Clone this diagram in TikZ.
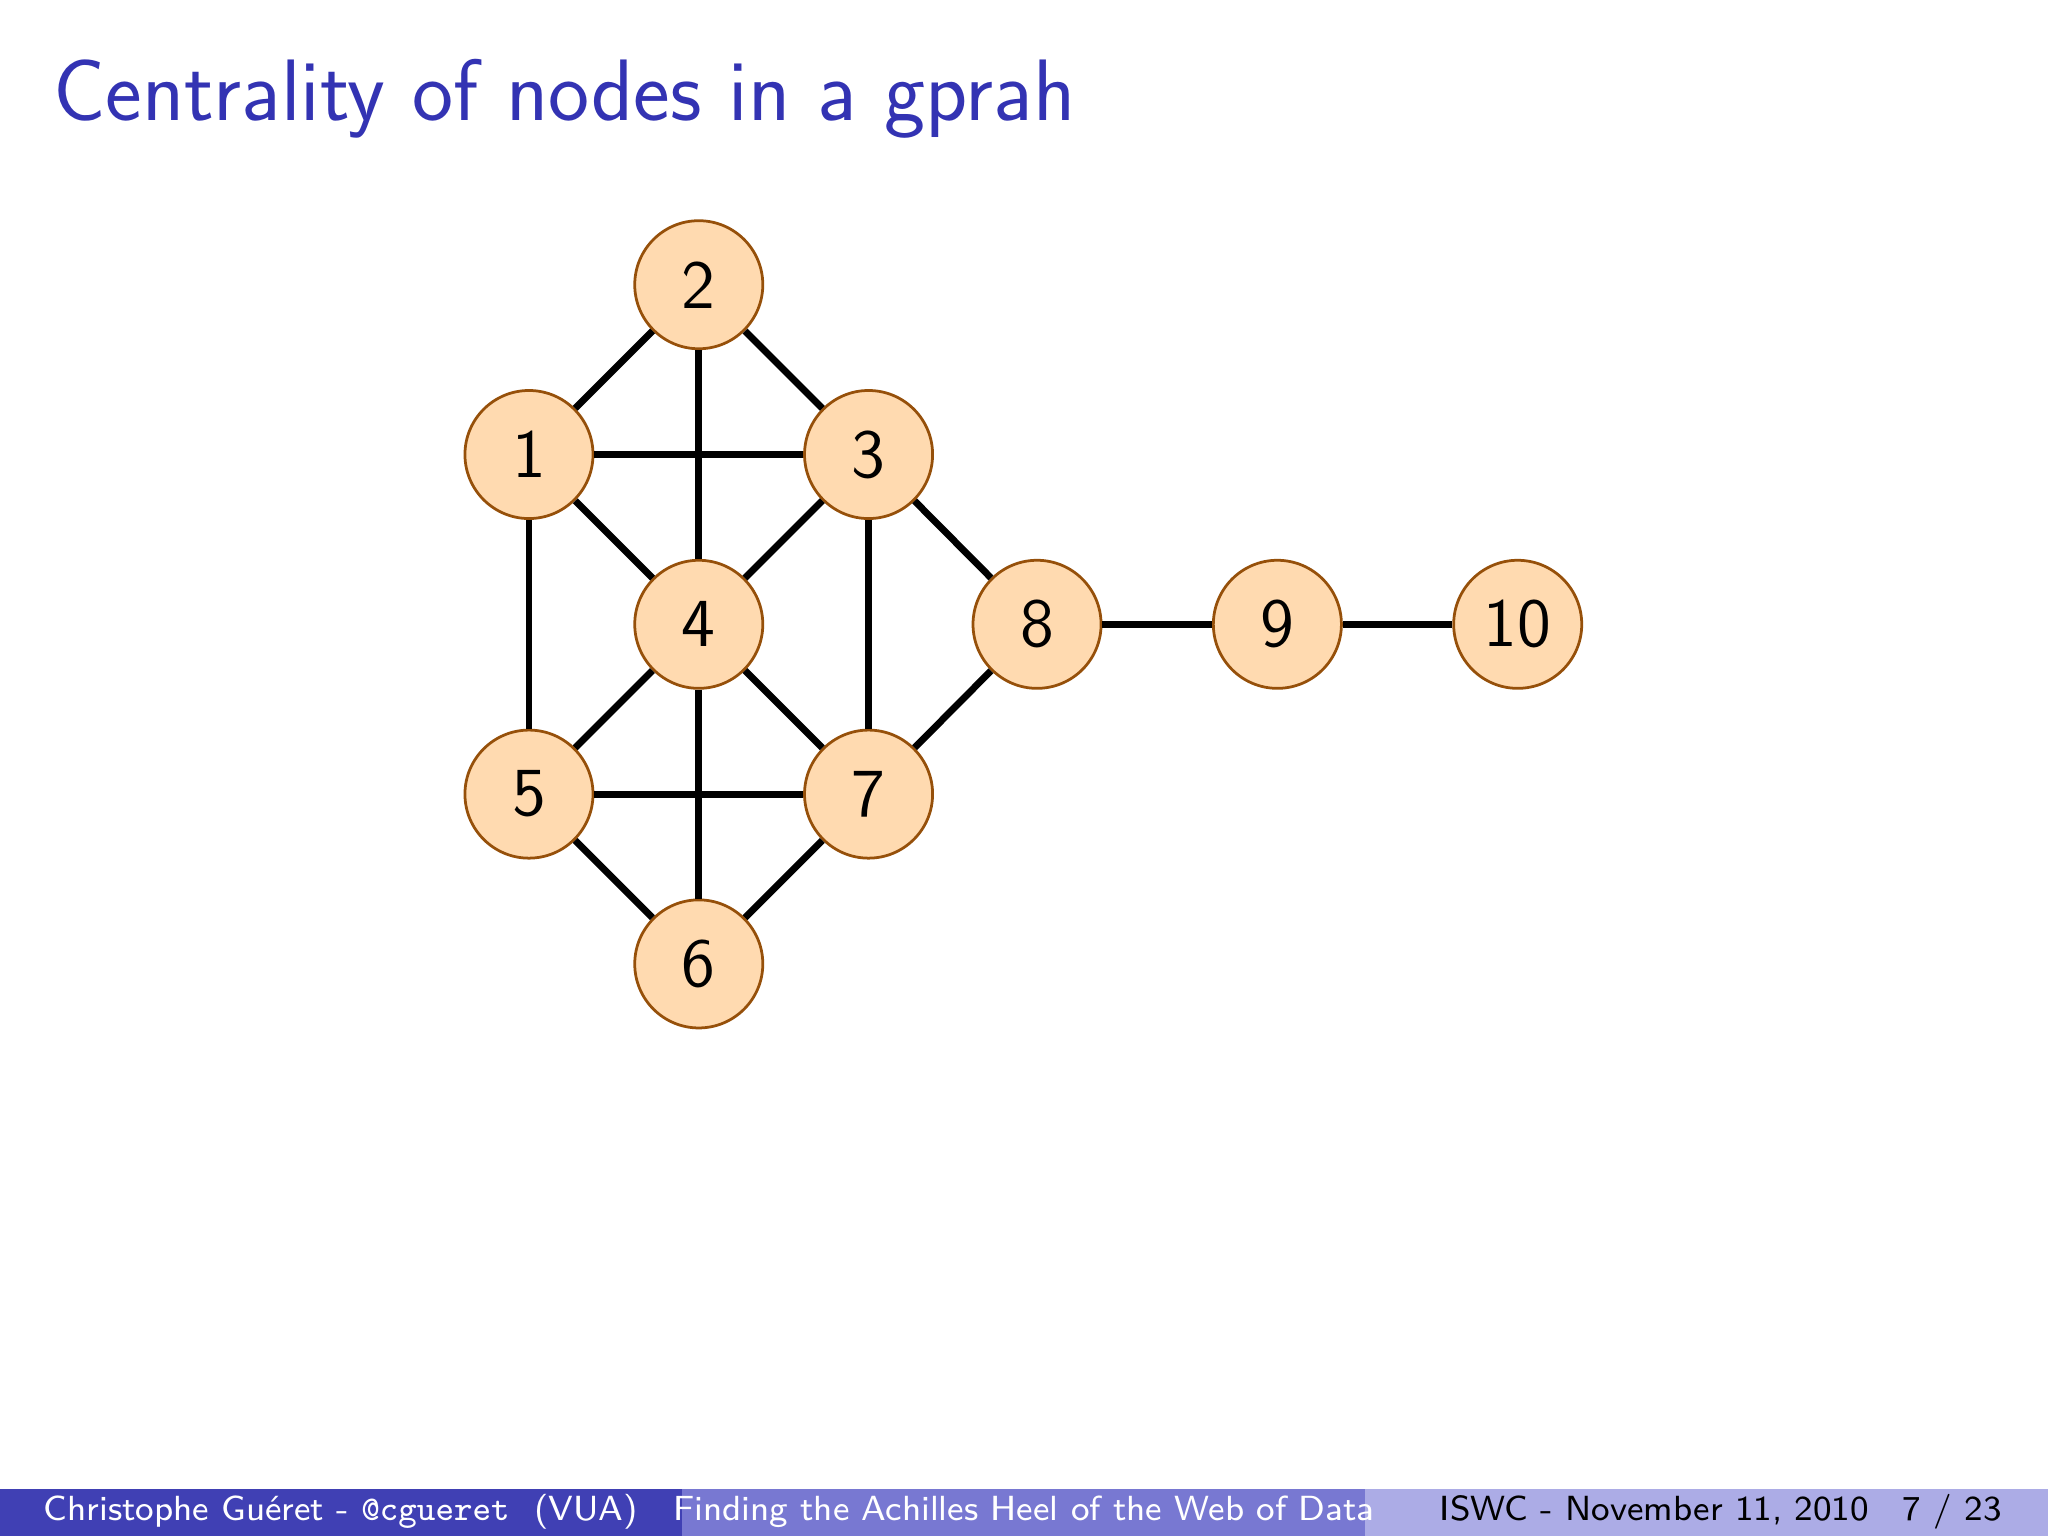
\documentclass[tikz,border=0pt]{standalone}
\usepackage{fontspec}
\definecolor{titleblue}{RGB}{51,51,179}
\definecolor{fA}{RGB}{64,64,180}
\definecolor{fB}{RGB}{120,120,210}
\definecolor{fC}{RGB}{172,172,230}
\definecolor{nfill}{RGB}{255,218,176}
\definecolor{ndraw}{RGB}{150,80,10}
\tikzset{vtx/.style={circle,fill=nfill,draw=ndraw,line width=0.6pt,minimum size=0.98cm,inner sep=0pt,font=\sffamily\fontsize{15}{15}\selectfont},
 edge/.style={line width=1.5pt,black},
 foot/.style={font=\sffamily\fontsize{7.6}{8}\selectfont,anchor=base}}
\begin{document}
\begin{tikzpicture}[x=0.01cm,y=-0.01cm]
\useasboundingbox (0,0) rectangle (1568,1176);
\fill[white] (0,0) rectangle (1568,1176);
\node[anchor=base west,text=titleblue,font=\sffamily\fontsize{19}{20}\selectfont,inner sep=0pt] (title) at (40,92) {Centrality of nodes in a gprah};
\node[vtx] (n1) at (405,348) {1};
\node[vtx] (n2) at (535,218) {2};
\node[vtx] (n3) at (665,348) {3};
\node[vtx] (n4) at (535,478) {4};
\node[vtx] (n5) at (405,608) {5};
\node[vtx] (n6) at (535,738) {6};
\node[vtx] (n7) at (665,608) {7};
\node[vtx] (n8) at (794,478) {8};
\node[vtx] (n9) at (978,478) {9};
\node[vtx] (n10) at (1162,478) {10};
\begin{scope}[on background layer/.style={}]
\end{scope}
\foreach \a/\b in {n1/n2,n2/n3,n1/n3,n2/n4,n1/n4,n3/n4,n1/n5,n3/n8,n3/n7,n4/n5,n4/n7,n4/n6,n5/n7,n5/n6,n6/n7,n7/n8,n8/n9,n9/n10}
  \draw[edge] (\a) -- (\b);
\fill[fA] (0,1140) rectangle (522,1176);
\fill[fB] (522,1140) rectangle (1045,1176);
\fill[fC] (1045,1140) rectangle (1568,1176);
\node[foot,text=white] (fa) at (261,1164) {Christophe Guéret - \texttt{@cgueret} \ (VUA)};
\node[foot,text=white] (fb) at (784,1164) {Finding the Achilles Heel of the Web of Data};
\node[foot,anchor=base west] (fc) at (1090,1164) {ISWC - November 11, 2010};
\node[foot,anchor=base east] (fd) at (1545,1164) {7 / 23};
\end{tikzpicture}
\end{document}
